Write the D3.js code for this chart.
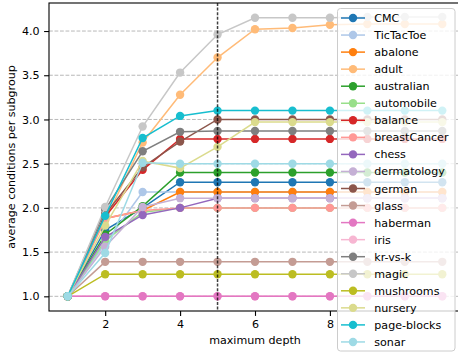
<!DOCTYPE html>
<html><head><meta charset="utf-8">
<script src="https://cdn.jsdelivr.net/npm/d3@7"></script>
<style>body{margin:0;background:#fff}svg{display:block;font-family:"DejaVu Sans",sans-serif}</style>
</head><body><svg id="c" width="458" height="355"></svg>
<script>
const depths = [1,2,3,4,5,6,7,8,9,10,11];
const seriesNames = ["CMC","TicTacToe","abalone","adult","australian","automobile","balance","breastCancer","chess","dermatology","german","glass","haberman","iris","kr-vs-k","magic","mushrooms","nursery","page-blocks","sonar"];
const CMC          = [1,1.75,2.00,2.29,2.29,2.29,2.29,2.29,2.29,2.29,2.29];
const TicTacToe    = [1,1.60,2.18,2.18,2.18,2.18,2.18,2.18,2.18,2.18,2.18];
const abalone      = [1,1.88,1.97,2.18,2.18,2.18,2.18,2.18,2.18,2.18,2.18];
const adult        = [1,1.86,2.74,3.28,3.70,4.02,4.035,4.07,4.08,4.08,4.08];
const australian   = [1,1.70,2.02,2.40,2.40,2.40,2.40,2.40,2.40,2.40,2.40];
const automobile   = [1,1.63,1.95,2.00,2.00,2.00,2.00,2.00,2.00,2.00,2.00];
const balance      = [1,1.90,2.43,2.78,2.78,2.78,2.78,2.78,2.78,2.78,2.78];
const breastCancer = [1,1.88,1.97,2.00,2.00,2.00,2.00,2.00,2.00,2.00,2.00];
const chess        = [1,1.67,1.92,2.00,2.11,2.11,2.11,2.11,2.11,2.11,2.11];
const dermatology  = [1,1.56,2.01,2.11,2.11,2.11,2.11,2.11,2.11,2.11,2.11];
const german       = [1,1.93,2.46,2.75,3.00,3.00,3.00,3.00,3.00,3.00,3.00];
const glass        = [1,1.39,1.39,1.39,1.39,1.39,1.39,1.39,1.39,1.39,1.39];
const haberman     = [1,1,1,1,1,1,1,1,1,1,1];
const iris         = [1,1,1,1,1,1,1,1,1,1,1];
const krvsk        = [1,1.98,2.64,2.86,2.87,2.87,2.87,2.87,2.87,2.87,2.87];
const magic        = [1,2.01,2.92,3.53,3.96,4.15,4.15,4.15,4.16,4.16,4.16];
const mushrooms    = [1,1.25,1.25,1.25,1.25,1.25,1.25,1.25,1.25,1.25,1.25];
const nursery      = [1,1.80,2.53,2.45,2.69,2.97,2.97,2.97,2.97,2.97,2.97];
const pageBlocks   = [1,1.91,2.79,3.04,3.10,3.10,3.10,3.10,3.10,3.10,3.10];
const sonar        = [1,1.49,2.51,2.50,2.50,2.50,2.50,2.50,2.50,2.50,2.50];
const seriesValues = [CMC,TicTacToe,abalone,adult,australian,automobile,balance,breastCancer,chess,dermatology,german,glass,haberman,iris,krvsk,magic,mushrooms,nursery,pageBlocks,sonar];
const xTicks = [2,4,6,8];
const yTicks = [1.0,1.5,2.0,2.5,3.0,3.5,4.0];
const chosenDepth = 5;
const xLabel = "maximum depth";
const yLabel = "average conditions per subgroup";

const colors = ["#1f77b4","#aec7e8","#ff7f0e","#ffbb78","#2ca02c","#98df8a","#d62728","#ff9896","#9467bd","#c5b0d5","#8c564b","#c49c94","#e377c2","#f7b6d2","#7f7f7f","#c7c7c7","#bcbd22","#dbdb8d","#17becf","#9edae5"];
// drawing order (iris beneath haberman, whose markers show on top in the picture)
const drawOrder = [0,1,2,3,4,5,6,7,8,9,10,11,13,12,14,15,16,17,18,19];

const L=49, R=461, T=3, B=311;
const FS = 11.1;
const svg = d3.select("#c");
const x = d3.scaleLinear().domain([0.5,11.5]).range([L,R]);
const y = d3.scaleLinear().domain([0.834,4.317]).range([B,T]);

// grid
svg.append("g").selectAll("line").data(yTicks).join("line")
  .attr("x1",L).attr("x2",R).attr("y1",d=>y(d)).attr("y2",d=>y(d))
  .attr("stroke","#b0b0b0").attr("stroke-width",0.9).attr("stroke-dasharray","3.8,1.7");

// axes
const xAxis = svg.append("g").attr("transform",`translate(0,${B})`)
  .call(d3.axisBottom(x).tickValues(xTicks).tickFormat(d3.format("d")).tickSizeOuter(0).tickSize(4.9).tickPadding(4.5));
const yAxis = svg.append("g").attr("transform",`translate(${L},0)`)
  .call(d3.axisLeft(y).tickValues(yTicks).tickFormat(d3.format(".1f")).tickSizeOuter(0).tickSize(4.9).tickPadding(4.5));
[xAxis,yAxis].forEach(a=>{
  a.select(".domain").remove();
  a.selectAll("line").attr("stroke","#000").attr("stroke-width",1.1);
  a.selectAll("text").attr("font-size",FS).attr("fill","#000").attr("font-family","DejaVu Sans");
});

// series
const line = d3.line().x((d,i)=>x(depths[i])).y(d=>y(d));
drawOrder.forEach(k=>{
  const vals = seriesValues[k];
  const g = svg.append("g");
  g.append("path").attr("d",line(vals)).attr("fill","none").attr("stroke",colors[k]).attr("stroke-width",1.5);
  g.selectAll("circle").data(vals).join("circle")
    .attr("cx",(d,i)=>x(depths[i])).attr("cy",d=>y(d)).attr("r",4.2).attr("fill",colors[k]);
});

// vertical line at chosen depth
svg.append("line").attr("x1",x(chosenDepth)).attr("x2",x(chosenDepth)).attr("y1",T).attr("y2",B)
  .attr("stroke","#000").attr("stroke-opacity",0.75).attr("stroke-width",1.5).attr("stroke-dasharray","3,1.6");

// frame
svg.append("rect").attr("x",L).attr("y",T).attr("width",R-L).attr("height",B-T)
  .attr("fill","none").attr("stroke","#000").attr("stroke-width",1.1);

// labels
svg.append("text").attr("x",(L+R)/2).attr("y",344).attr("text-anchor","middle").attr("font-size",FS).text(xLabel);
svg.append("text").attr("transform",`translate(14.5,${(T+B)/2}) rotate(-90)`).attr("text-anchor","middle").attr("font-size",FS).text(yLabel);

// legend
const lg = svg.append("g");
lg.append("rect").attr("x",337.5).attr("y",8.5).attr("width",117.5).attr("height",342.5).attr("rx",3)
  .attr("fill","#fff").attr("fill-opacity",0.8).attr("stroke","#cccccc").attr("stroke-width",1);
seriesNames.forEach((n,k)=>{
  const cy = 18 + k*17.05;
  lg.append("line").attr("x1",341).attr("x2",365).attr("y1",cy).attr("y2",cy).attr("stroke",colors[k]).attr("stroke-width",1.5);
  lg.append("circle").attr("cx",353).attr("cy",cy).attr("r",4.2).attr("fill",colors[k]);
  lg.append("text").attr("x",374.3).attr("y",cy+4).attr("font-size",FS).attr("fill","#000").text(n);
});
</script></body></html>
